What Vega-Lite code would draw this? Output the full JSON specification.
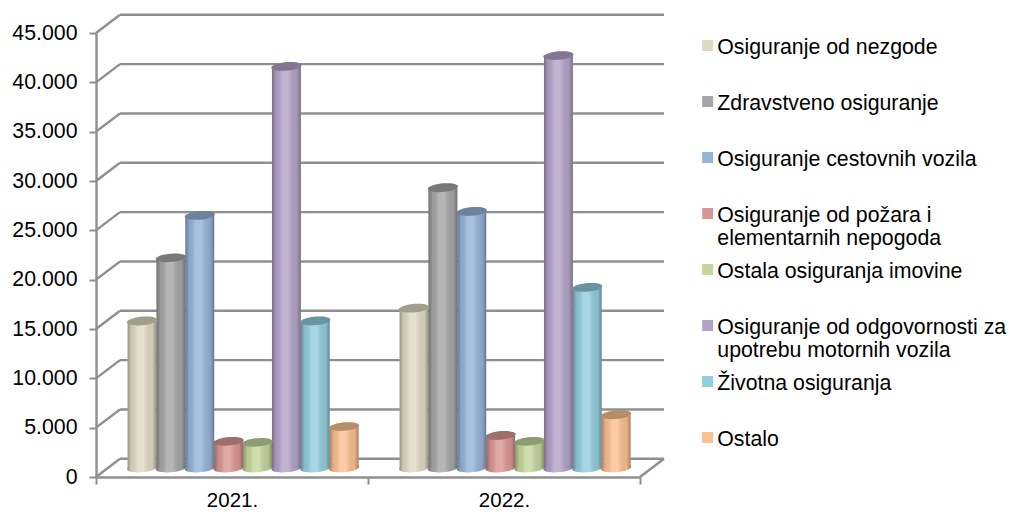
{
"$schema":"https://vega.github.io/schema/vega-lite/v6.json",
"width":544,"height":444,"autosize":"none",
"padding":{"left":96,"top":33,"right":370,"bottom":35},
"background":"white",
"config":{"view":{"stroke":null},"font":"Liberation Sans"},
"datasets":{
"frame":[
{"l":"g0","xv":24,"yv":1843},{"l":"g0","xv":568,"yv":1843},
{"l":"g5","xv":24,"yv":6843},{"l":"g5","xv":568,"yv":6843},
{"l":"g10","xv":24,"yv":11843},{"l":"g10","xv":568,"yv":11843},
{"l":"g15","xv":24,"yv":16843},{"l":"g15","xv":568,"yv":16843},
{"l":"g20","xv":24,"yv":21843},{"l":"g20","xv":568,"yv":21843},
{"l":"g25","xv":24,"yv":26843},{"l":"g25","xv":568,"yv":26843},
{"l":"g30","xv":24,"yv":31843},{"l":"g30","xv":568,"yv":31843},
{"l":"g35","xv":24,"yv":36843},{"l":"g35","xv":568,"yv":36843},
{"l":"g40","xv":24,"yv":41843},{"l":"g40","xv":568,"yv":41843},
{"l":"g45","xv":24,"yv":46843},{"l":"g45","xv":568,"yv":46843},
{"l":"d0","xv":0,"yv":0},{"l":"d0","xv":24,"yv":1843},
{"l":"d5","xv":0,"yv":5000},{"l":"d5","xv":24,"yv":6843},
{"l":"d10","xv":0,"yv":10000},{"l":"d10","xv":24,"yv":11843},
{"l":"d15","xv":0,"yv":15000},{"l":"d15","xv":24,"yv":16843},
{"l":"d20","xv":0,"yv":20000},{"l":"d20","xv":24,"yv":21843},
{"l":"d25","xv":0,"yv":25000},{"l":"d25","xv":24,"yv":26843},
{"l":"d30","xv":0,"yv":30000},{"l":"d30","xv":24,"yv":31843},
{"l":"d35","xv":0,"yv":35000},{"l":"d35","xv":24,"yv":36843},
{"l":"d40","xv":0,"yv":40000},{"l":"d40","xv":24,"yv":41843},
{"l":"d45","xv":0,"yv":45000},{"l":"d45","xv":24,"yv":46843},
{"l":"dr","xv":544,"yv":0},{"l":"dr","xv":568,"yv":1843}
],
"vals":[
{"year":"2021.","series":"Osiguranje od nezgode","value":14900},
{"year":"2021.","series":"Zdravstveno osiguranje","value":21300},
{"year":"2021.","series":"Osiguranje cestovnih vozila","value":25600},
{"year":"2021.","series":"Osiguranje od požara i|elementarnih nepogoda","value":2700},
{"year":"2021.","series":"Ostala osiguranja imovine","value":2600},
{"year":"2021.","series":"Osiguranje od odgovornosti za|upotrebu motornih vozila","value":40700},
{"year":"2021.","series":"Životna osiguranja","value":14900},
{"year":"2021.","series":"Ostalo","value":4200},
{"year":"2022.","series":"Osiguranje od nezgode","value":16200},
{"year":"2022.","series":"Zdravstveno osiguranje","value":28400},
{"year":"2022.","series":"Osiguranje cestovnih vozila","value":26000},
{"year":"2022.","series":"Osiguranje od požara i|elementarnih nepogoda","value":3300},
{"year":"2022.","series":"Ostala osiguranja imovine","value":2700},
{"year":"2022.","series":"Osiguranje od odgovornosti za|upotrebu motornih vozila","value":41800},
{"year":"2022.","series":"Životna osiguranja","value":18300},
{"year":"2022.","series":"Ostalo","value":5400}
]},
"resolve":{"scale":{"x":"independent"},"axis":{"x":"independent"}},
"layer":[
{"data":{"name":"frame"},
 "mark":{"type":"line","color":"#8f8f8f","strokeWidth":2.4,"clip":false},
 "encoding":{"x":{"field":"xv","type":"quantitative","scale":{"domain":[0,544],"nice":false,"zero":false},"axis":null},
 "y":{"field":"yv","type":"quantitative","title":null,"scale":{"domain":[0,45000],"nice":false},
  "axis":{"title":null,"values":[0,5000,10000,15000,20000,25000,30000,35000,40000,45000],"labelExpr":"replace(format(datum.value,','),',','.')","labelFont":"Liberation Sans","labelFontSize":21.3,"labelColor":"#000000","domainColor":"#8f8f8f","domainWidth":2.4,"tickColor":"#8f8f8f","tickWidth":2,"tickSize":7,"grid":false,"labelPadding":12}},
 "detail":{"field":"l"},"order":{"field":"xv"}}},
{"data":{"name":"vals"},
 "encoding":{
  "x":{"field":"year","type":"nominal","scale":{"paddingInner":0,"paddingOuter":0},
   "axis":{"title":null,"labelAngle":0,"labelFont":"Liberation Sans","labelFontSize":20.5,"labelColor":"#000000","domainColor":"#8f8f8f","domainWidth":2.4,"tickColor":"#8f8f8f","tickWidth":2,"tickSize":7,"tickBand":"extent","labelPadding":6.5,"grid":false}},
  "xOffset":{"field":"series","type":"nominal","sort":null,"scale":{"range":[31.6,262.6],"paddingInner":0,"paddingOuter":0}},
  "y":{"field":"value","type":"quantitative","title":null},
  "fill":{"field":"series","type":"nominal","sort":null,"scale":{"range":["#ddd9c3","#a6a6a6","#95b3d7","#d99694","#c3d69b","#b3a2c7","#92cddc","#fac090"]},
    "legend":{"title":null,"orient":"none","legendX":601,"legendY":-6,"symbolType":"square","symbolSize":121,"symbolStrokeWidth":0,"labelFont":"Liberation Sans","labelFontSize":21.3,"labelColor":"#000000","labelOffset":-1,"labelLimit":330,"clipHeight":56,"rowPadding":-0.4,"labelExpr":"split(datum.label,'|')","labelBaseline":"top","encoding":{"labels":{"y":{"value":9.5}},"symbols":{"y":{"value":18.5}}}}}
 },
 "layer":[
 {"mark":{"type":"point","filled":true,"opacity":1,"size":841,"yOffset":-9,"clip":false,"shape":"M-1,0A1,0.28,-5,1,1,1,0A1,0.28,-5,1,1,-1,0Z"},
  "encoding":{"y":{"datum":0,"type":"quantitative"}}},
 {"mark":{"type":"point","filled":true,"opacity":1,"size":841,"yOffset":-9,"clip":false,"shape":"M-1,0A1,0.28,-5,1,1,1,0A1,0.28,-5,1,1,-1,0Z","fill":{"gradient":"linear","x1":0,"x2":1,"y1":0,"y2":0,"stops":[{"offset":0,"color":"rgba(0,0,0,0.32)"},{"offset":0.14,"color":"rgba(0,0,0,0.07)"},{"offset":0.35,"color":"rgba(255,255,255,0.17)"},{"offset":0.55,"color":"rgba(255,255,255,0.2)"},{"offset":0.86,"color":"rgba(0,0,0,0.07)"},{"offset":1,"color":"rgba(0,0,0,0.32)"}]}},
  "encoding":{"y":{"datum":0,"type":"quantitative"},"fill":null}},
 {"mark":{"type":"bar","yOffset":-9,"clip":false}},
 {"mark":{"type":"bar","yOffset":-9,"clip":false,"fill":{"gradient":"linear","x1":0,"x2":1,"y1":0,"y2":0,"stops":[{"offset":0,"color":"rgba(0,0,0,0.32)"},{"offset":0.14,"color":"rgba(0,0,0,0.07)"},{"offset":0.35,"color":"rgba(255,255,255,0.17)"},{"offset":0.55,"color":"rgba(255,255,255,0.2)"},{"offset":0.86,"color":"rgba(0,0,0,0.07)"},{"offset":1,"color":"rgba(0,0,0,0.32)"}]}},
  "encoding":{"fill":null}},
 {"mark":{"type":"point","filled":true,"opacity":1,"size":841,"yOffset":-9,"clip":false,"shape":"M-1,0A1,0.28,-5,1,1,1,0A1,0.28,-5,1,1,-1,0Z"}},
 {"mark":{"type":"point","filled":true,"opacity":0.27,"size":841,"yOffset":-9,"clip":false,"shape":"M-1,0A1,0.28,-5,1,1,1,0A1,0.28,-5,1,1,-1,0Z"},
  "encoding":{"fill":{"value":"#000000"}}}
 ]}
]}
